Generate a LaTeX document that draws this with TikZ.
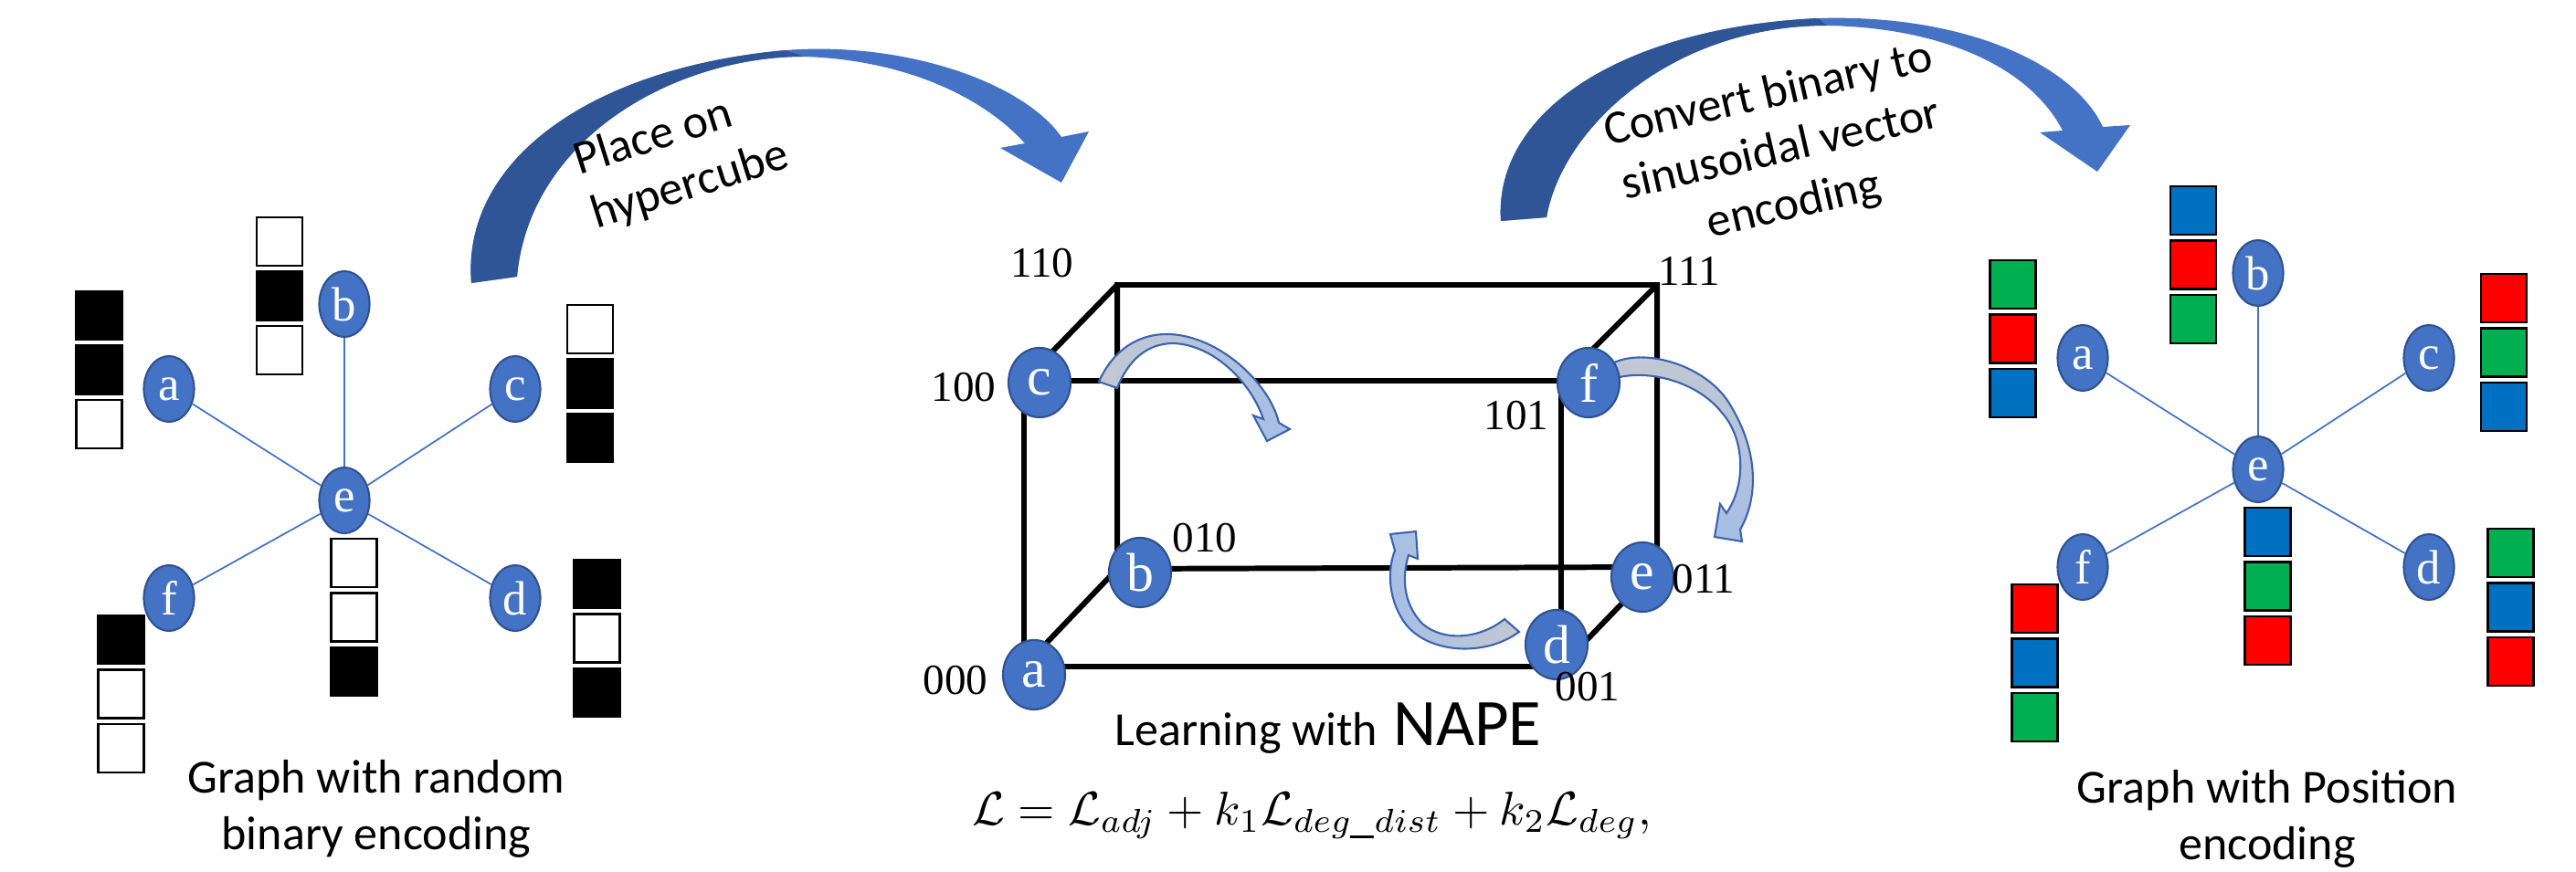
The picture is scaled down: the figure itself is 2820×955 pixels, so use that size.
\documentclass[tikz,border=0pt]{standalone}
\usepackage[no-math]{fontspec}
\setmainfont{Carlito}
\newfontfamily\timesfont{Liberation Serif}
\usetikzlibrary{shapes.geometric}

\definecolor{nodeblue}{HTML}{4472C4}
\definecolor{nodeedge}{HTML}{2F528F}
\definecolor{arcdark}{HTML}{2F5597}
\definecolor{arclight}{HTML}{4472C4}
\definecolor{bitred}{HTML}{FF0000}
\definecolor{bitgreen}{HTML}{00B050}
\definecolor{bitblue}{HTML}{0070C0}
\definecolor{tailgray}{HTML}{C3C8D2}
\definecolor{headblue}{HTML}{A6BEE6}
\definecolor{arrowedge}{HTML}{3B64AD}

\tikzset{
    vertex/.style={ellipse, fill=nodeblue, draw=nodeedge, line width=0.6pt,
        minimum width=0.55cm, minimum height=0.72cm, inner sep=0pt, text=white,
        font=\timesfont\fontsize{15}{16}\selectfont},
    corner/.style={vertex, minimum width=0.68cm, minimum height=0.76cm,
        font=\timesfont\fontsize{17}{18}\selectfont},
    bit/.style={draw=black, line width=0.8pt, minimum width=0.5cm,
        minimum height=0.53cm, inner sep=0pt},
    link/.style={nodeblue, line width=0.5pt},
    cubeline/.style={line width=1.7pt, line cap=round},
    code/.style={font=\timesfont\fontsize{13.4}{14}\selectfont, inner sep=0pt},
    caption/.style={align=center, inner sep=0pt,
        font=\fontsize{14.8}{17.6}\selectfont},
    innerarrow/.style={draw=arrowedge, line width=0.6pt},
}

\begin{document}
\begin{tikzpicture}[x=0.01cm, y=-0.01cm]
    \useasboundingbox (0,0) rectangle (2820,955);

    % graph with random binary encoding
    \node[vertex] (a) at (185,426) {a};
    \node[vertex] (b) at (377,333) {b};
    \node[vertex] (c) at (564,426) {c};
    \node[vertex] (e) at (377,548) {e};
    \node[vertex] (f) at (185,655) {f};
    \node[vertex] (d) at (564,655) {d};
    \foreach \n in {a,b,c,d,f}
        \draw[link] (e) -- (\n);

    \foreach \c [count=\i] in {black,black,white}
        \node[bit, fill=\c] (abit\i) at (108.5,286+59.5*\i) {};
    \foreach \c [count=\i] in {white,black,white}
        \node[bit, fill=\c] (bbit\i) at (306,205+59.5*\i) {};
    \foreach \c [count=\i] in {white,black,black}
        \node[bit, fill=\c] (cbit\i) at (646,301+59.5*\i) {};
    \foreach \c [count=\i] in {white,white,black}
        \node[bit, fill=\c] (ebit\i) at (387.5,557+59.5*\i) {};
    \foreach \c [count=\i] in {black,white,white}
        \node[bit, fill=\c] (fbit\i) at (132.6,641+59.5*\i) {};
    \foreach \c [count=\i] in {black,white,black}
        \node[bit, fill=\c] (dbit\i) at (653.6,580+59.5*\i) {};

    \node[caption] (capl) at (412,886) {Graph with random\\binary encoding};

    % arrow to the hypercube
    \fill[arclight] (516,310) .. controls (505,180) and (640,75) .. (860,55)
        .. controls (990,45) and (1120,90) .. (1162,150) -- (1192,144) -- (1162,200)
        -- (1095,162) -- (1122,157) .. controls (1070,100) and (980,65) .. (880,62)
        .. controls (740,62) and (580,150) .. (566,303) -- cycle;
    \fill[arcdark] (516,310) .. controls (505,180) and (640,75) .. (860,55)
        -- (880,62) .. controls (740,62) and (580,150) .. (566,303) -- cycle;
    \node[caption, align=left, rotate=17.5] (place) at (746,174) {Place on\\hypercube};

    % hypercube
    \coordinate (k000) at (1121,730);
    \coordinate (k001) at (1709,730);
    \coordinate (k101) at (1709,417);
    \coordinate (k100) at (1121,417);
    \coordinate (k110) at (1223,312);
    \coordinate (k111) at (1814,312);
    \coordinate (k010) at (1223,623);
    \coordinate (k011) at (1814,621);
    \draw[cubeline] (k000) -- (k001) -- (k101) -- (k100) -- cycle;
    \draw[cubeline] (k010) -- (k011) -- (k111) -- (k110) -- cycle;
    \draw[cubeline] (k000) -- (k010) (k001) -- (k011) (k101) -- (k111) (k100) -- (k110);

    \draw[innerarrow, left color=tailgray, right color=headblue] (1203,418)
        .. controls (1220,380) and (1250,365) .. (1280,366)
        .. controls (1335,368) and (1390,420) .. (1400,463) -- (1412,470) -- (1387,483)
        -- (1372,455) -- (1383,459) .. controls (1370,420) and (1330,378) .. (1285,376)
        .. controls (1255,376) and (1235,395) .. (1223,425) -- cycle;
    \draw[innerarrow, top color=tailgray, bottom color=headblue] (1765,398)
        .. controls (1800,380) and (1870,400) .. (1895,445)
        .. controls (1925,495) and (1925,545) .. (1905,580) -- (1907,593) -- (1877,588)
        -- (1883,552) -- (1890,562) .. controls (1912,530) and (1910,480) .. (1885,452)
        .. controls (1860,420) and (1810,405) .. (1773,413) -- cycle;
    \draw[innerarrow, right color=tailgray, left color=headblue] (1663,692)
        .. controls (1625,720) and (1565,715) .. (1540,685)
        .. controls (1520,660) and (1518,625) .. (1527,603) -- (1522,585) -- (1550,582)
        -- (1552,612) -- (1542,608) .. controls (1535,630) and (1535,660) .. (1557,683)
        .. controls (1580,703) and (1620,700) .. (1647,678) -- cycle;

    \node[corner] (ca) at (1132,739) {a};
    \node[corner] (cb) at (1248,627) {b};
    \node[corner] (cc) at (1138,419) {c};
    \node[corner] (cd) at (1704,706) {d};
    \node[corner] (ce) at (1798,632) {e};
    \node[corner] (cf) at (1739,419) {f};

    \node[code] (l000) at (1046,745) {000};
    \node[code] (l001) at (1738,752) {001};
    \node[code] (l010) at (1319,589) {010};
    \node[code] (l011) at (1865,634) {011};
    \node[code] (l100) at (1055,424) {100};
    \node[code] (l101) at (1660,455) {101};
    \node[code] (l110) at (1141,288) {110};
    \node[code] (l111) at (1849,297) {111};

    \node[anchor=base west, inner sep=0pt, font=\fontsize{14.8}{16}\selectfont] (learn)
        at (1220,817) {Learning with\hspace{0.05cm} {\fontsize{20.7}{21}\selectfont NAPE}};
    \node[inner sep=0pt] (loss) at (1436,893)
        {\resizebox{7.43cm}{!}{$\mathcal{L} = \mathcal{L}_{adj} + k_1\mathcal{L}_{deg\_dist} + k_2\mathcal{L}_{deg},$}};

    % arrow to the position encoding
    \fill[arclight] (1643,242) .. controls (1635,120) and (1780,30) .. (1990,20)
        .. controls (2150,15) and (2270,70) .. (2302,139) -- (2332,137) -- (2296,188)
        -- (2233,145) -- (2258,143) .. controls (2220,70) and (2120,30) .. (2000,28)
        .. controls (1830,28) and (1710,140) .. (1693,238) -- cycle;
    \fill[arcdark] (1643,242) .. controls (1635,120) and (1780,30) .. (1990,20)
        -- (2000,28) .. controls (1830,28) and (1710,140) .. (1693,238) -- cycle;
    \node[caption, rotate=13] (convert) at (1950,165)
        {Convert binary to\\sinusoidal vector\\encoding};

    % graph with position encoding
    \node[vertex] (ra) at (2280,392) {a};
    \node[vertex] (rb) at (2472,299) {b};
    \node[vertex] (rc) at (2659,392) {c};
    \node[vertex] (re) at (2472,514) {e};
    \node[vertex] (rf) at (2280,621) {f};
    \node[vertex] (rd) at (2659,621) {d};
    \foreach \n in {ra,rb,rc,rd,rf}
        \draw[link] (re) -- (\n);

    \foreach \c [count=\i] in {bitgreen,bitred,bitblue}
        \node[bit, fill=\c] (rabit\i) at (2203.5,252+59.5*\i) {};
    \foreach \c [count=\i] in {bitblue,bitred,bitgreen}
        \node[bit, fill=\c] (rbbit\i) at (2401,171+59.5*\i) {};
    \foreach \c [count=\i] in {bitred,bitgreen,bitblue}
        \node[bit, fill=\c] (rcbit\i) at (2741,267+59.5*\i) {};
    \foreach \c [count=\i] in {bitblue,bitgreen,bitred}
        \node[bit, fill=\c] (rebit\i) at (2482.5,523+59.5*\i) {};
    \foreach \c [count=\i] in {bitred,bitblue,bitgreen}
        \node[bit, fill=\c] (rfbit\i) at (2227.6,607+59.5*\i) {};
    \foreach \c [count=\i] in {bitgreen,bitblue,bitred}
        \node[bit, fill=\c] (rdbit\i) at (2748.6,546+59.5*\i) {};

    \node[caption] (capr) at (2482,897) {Graph with Position\\encoding};
\end{tikzpicture}
\end{document}
